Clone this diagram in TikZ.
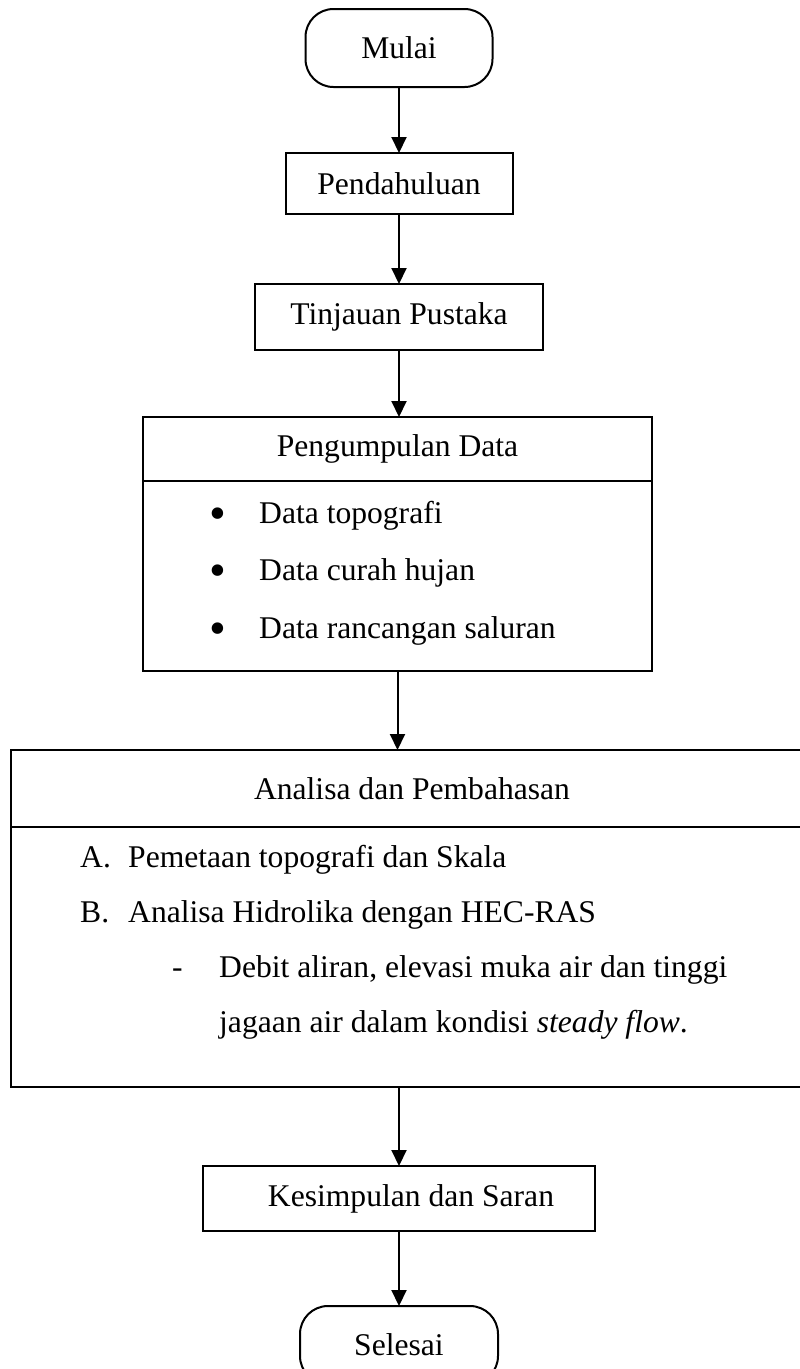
\documentclass[tikz,border=0pt]{standalone}
\usepackage{fontspec}
\setmainfont{Liberation Serif}
\usetikzlibrary{arrows.meta,positioning}
\def\midx{399}
\def\rowsep{57.5}

\begin{document}
\begin{tikzpicture}[
    x=1pt, y=-1pt,
    font=\fontsize{31.6pt}{38pt}\selectfont,
    arrowtip/.style={
      -{Triangle[width=15pt,length=16pt]}, line width=2pt
    },
    box/.style={
      draw, line width=2pt, inner sep=0pt, outer sep=0pt
    },
    terminal/.style={
      box, rounded corners=28pt
    },
    item/.style={
      anchor=base west, inner sep=0pt
    },
    bullet/.style={
      inner sep=0pt, font=\fontsize{48pt}{48pt}\selectfont
    }
  ]
    \useasboundingbox (0,0) rectangle (800,1369);

    % first steps
    \node[terminal, minimum width=187pt, minimum height=78pt] (Start)  at (\midx,48)    {Mulai};
    \node[box, minimum width=227pt, minimum height=61pt]      (Intro)  at (\midx,183.5) {Pendahuluan};
    \node[box, minimum width=288pt, minimum height=66pt]      (Review) at (\midx,317)   {Tinjauan Pustaka};

    % data collection
    \node[box, minimum width=509pt, minimum height=64pt]  (DataHead) at (397.5,449) {Pengumpulan Data};
    \node[box, minimum width=509pt, minimum height=190pt, below=0pt of DataHead] (DataBody) {};
    \foreach \txt [count=\i] in {Data topografi, Data curah hujan, Data rancangan saluran} {
      \node[bullet] (Bullet\i) at (217.5, 461+\rowsep*\i) {\textbullet};
      \node[item] (Data\i) at (259, 465.5+\rowsep*\i) {\txt};
    }

    % analysis
    \node[box, minimum width=802pt, minimum height=77pt]  (AnaHead) at (412,788.5) {Analisa dan Pembahasan};
    \node[box, minimum width=802pt, minimum height=260pt, below=0pt of AnaHead] (AnaBody) {};
    \node[item] (ListA) at (80,867)  {A.};
    \node[item] (AnaA)  at (128,867) {Pemetaan topografi dan Skala};
    \node[item] (ListB) at (80,922)  {B.};
    \node[item] (AnaB)  at (128,922) {Analisa Hidrolika dengan HEC-RAS};
    \node[item] (Dash)  at (172,977) {-};
    \node[item] (AnaC)  at (219,977) {Debit aliran, elevasi muka air dan tinggi};
    \node[item] (AnaD)  at (219,1032) {jagaan air dalam kondisi \textit{steady flow}.};

    % last steps
    \node[box, minimum width=392pt, minimum height=65pt]      (Concl) at (\midx,1198.5) {\hspace*{24pt}Kesimpulan dan Saran};
    \node[terminal, minimum width=198pt, minimum height=78pt] (Stop)  at (\midx,1345)   {Selesai};

    % arrows
    \draw[arrowtip] (Start)  -- (Intro);
    \draw[arrowtip] (Intro)  -- (Review);
    \draw[arrowtip] (Review) -- (Review.south |- DataHead.north);
    \draw[arrowtip] (DataBody.south) -- (DataBody.south |- AnaHead.north);
    \draw[arrowtip] (Concl.north |- AnaBody.south) -- (Concl.north);
    \draw[arrowtip] (Concl)  -- (Stop);
  \end{tikzpicture}
\end{document}
